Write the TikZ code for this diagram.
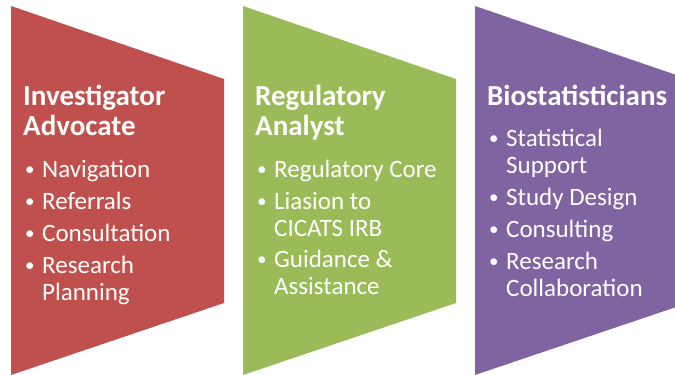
\documentclass[tikz,border=0pt]{standalone}
\usepackage{fontspec}
\setmainfont{Carlito}
\usetikzlibrary{positioning}
\definecolor{advred}{HTML}{C0504D}
\definecolor{reggreen}{HTML}{9BBB59}
\definecolor{biopurple}{HTML}{8064A2}
\def\panelsep{232}
\def\panelwidth{213}
\newcommand{\bul}{\makebox[17pt][l]{\raisebox{2pt}{\fontsize{19}{19}\selectfont\textbullet}}}

\begin{document}
\begin{tikzpicture}[x=1pt,y=-1pt]
    \tikzstyle{heading}=[anchor=north west,inner sep=0pt,text=white,align=left,font=\fontsize{29}{30}\selectfont\bfseries]
    \tikzstyle{bullets}=[anchor=north west,inner sep=0pt,text=white,font=\fontsize{25}{27}\selectfont]

    \useasboundingbox (0,0) rectangle (675,375);

    % Draw the three panels
    \foreach \col [count=\i from 0] in {advred,reggreen,biopurple}
        \fill[\col] (11+\i*\panelsep,6) -- ++(\panelwidth,73) -- ++(0,224)
            -- ++(-\panelwidth,72) -- cycle;

    % Headings
    \node[heading] (head-A) at (23,85) {Investigator\\Advocate};
    \node[heading] (head-R) at (255,85) {Regulatory\\Analyst};
    \node[heading] (head-B) at (487,85) {Biostatisticians};

    % Bullet lists
    \node[bullets] (list-A) at (25,158) {\begin{tabular}{@{}l@{}l@{}}
        \bul & Navigation\\[5pt]
        \bul & Referrals\\[5pt]
        \bul & Consultation\\[5pt]
        \bul & Research\\
             & Planning
    \end{tabular}};
    \node[bullets] (list-R) at (257,158) {\begin{tabular}{@{}l@{}l@{}}
        \bul & Regulatory Core\\[5pt]
        \bul & Liasion to\\
             & CICATS IRB\\[4pt]
        \bul & Guidance \&\\
             & Assistance
    \end{tabular}};
    \node[bullets] (list-B) at (489,127) {\begin{tabular}{@{}l@{}l@{}}
        \bul & Statistical\\
             & Support\\[5pt]
        \bul & Study Design\\[5pt]
        \bul & Consulting\\[5pt]
        \bul & Research\\
             & Collaboration
    \end{tabular}};
\end{tikzpicture}
\end{document}
